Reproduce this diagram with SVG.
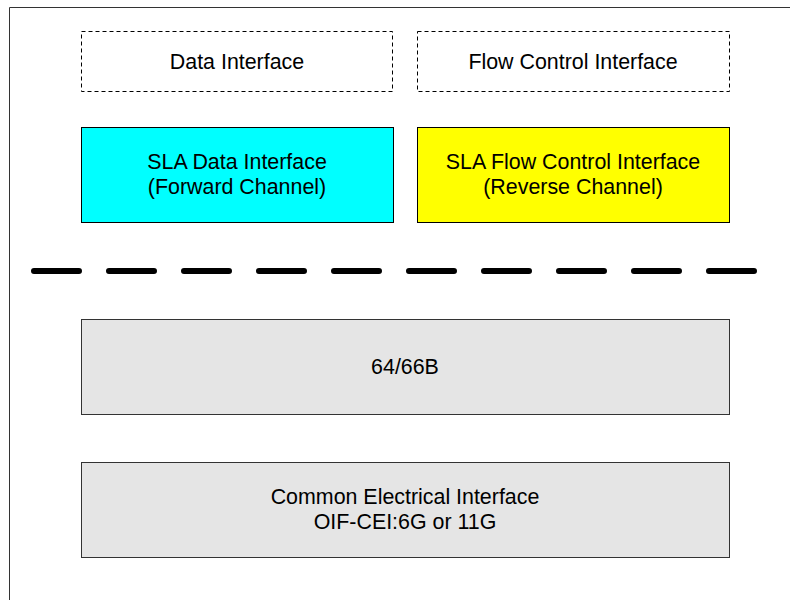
<svg xmlns="http://www.w3.org/2000/svg" width="790" height="600" viewBox="0 0 790 600">
  <style>
    text { font-family: "Liberation Sans", Arial, sans-serif; font-size: 21.4px; fill: #000; text-anchor: middle; }
    .dashed { fill: #fff; stroke: #000; stroke-width: 1; stroke-dasharray: 4 3; }
    .solid { stroke: #000; stroke-width: 1; }
    .gray { fill: #e5e5e5; stroke: #333; stroke-width: 1; }
  </style>
  <rect width="790" height="600" fill="#fff"/>
  <!-- outer frame -->
  <path d="M9.5 600 V7.5 H790" fill="none" stroke="#333" stroke-width="1"/>

  <g id="data-interface">
    <rect class="dashed" x="81.5" y="31.5" width="311" height="60"/>
    <text x="237" y="68.5">Data Interface</text>
  </g>
  <g id="flow-control-interface">
    <rect class="dashed" x="417.5" y="31.5" width="312" height="60"/>
    <text x="573" y="68.5">Flow Control Interface</text>
  </g>
  <g id="sla-data-interface">
    <rect class="solid" fill="#00ffff" x="81.5" y="127.5" width="312" height="95"/>
    <text x="237" y="168.5">SLA Data Interface</text>
    <text x="237" y="193.5">(Forward Channel)</text>
  </g>
  <g id="sla-flow-control-interface">
    <rect class="solid" fill="#ffff00" x="417.5" y="127.5" width="312" height="95"/>
    <text x="573" y="168.5">SLA Flow Control Interface</text>
    <text x="573" y="193.5">(Reverse Channel)</text>
  </g>

  <g id="connectors">
    <!-- separator between interface layers -->
    <line x1="34" y1="271" x2="754" y2="271" stroke="#000" stroke-width="6" stroke-linecap="round" stroke-dasharray="45 30"/>
  </g>

  <g id="encoding-64-66b">
    <rect class="gray" x="81.5" y="319.5" width="648" height="95"/>
    <text x="405" y="373.5">64/66B</text>
  </g>
  <g id="common-electrical-interface">
    <rect class="gray" x="81.5" y="462.5" width="648" height="95"/>
    <text x="405" y="504">Common Electrical Interface</text>
    <text x="405" y="528.5">OIF-CEI:6G or 11G</text>
  </g>
</svg>
